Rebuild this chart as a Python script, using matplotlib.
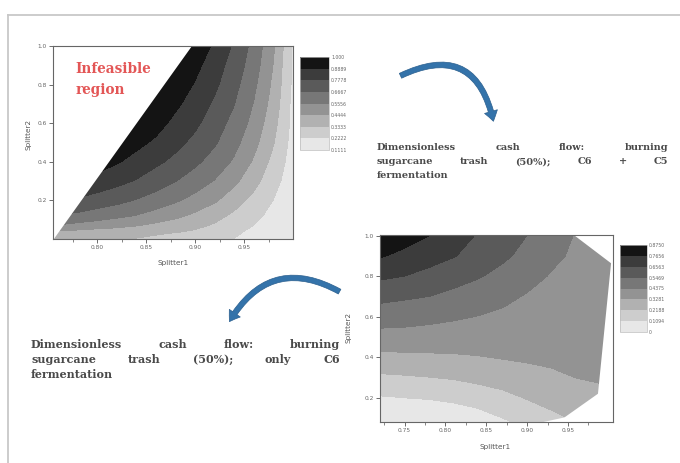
import matplotlib.pyplot as plt
import numpy as np
from matplotlib.lines import Line2D
from matplotlib.patches import FancyArrowPatch
from matplotlib.ticker import FormatStrFormatter

W, H = 680, 463

# upper map: C6 + C5 fermentation (dimensionless cash flow over splitter fractions)
top_s1 = [0.74, 0.76, 0.78, 0.80, 0.82, 0.84, 0.86, 0.88, 0.90, 0.92, 0.94, 0.96, 0.98, 1.00]
top_s2 = [0.0, 0.03, 0.07, 0.12, 0.2, 0.3, 0.4, 0.5, 0.6, 0.7, 0.8, 0.9, 1.0]
top_cash = [
    [0.33, 0.33, 0.33, 0.33, 0.33, 0.33, 0.32, 0.31, 0.29, 0.26, 0.22, 0.17, 0.13, 0.12],
    [0.42, 0.40, 0.39, 0.37, 0.36, 0.35, 0.34, 0.33, 0.31, 0.28, 0.24, 0.19, 0.15, 0.12],
    [0.57, 0.55, 0.52, 0.50, 0.48, 0.45, 0.42, 0.39, 0.36, 0.32, 0.27, 0.22, 0.17, 0.13],
    [0.69, 0.66, 0.64, 0.61, 0.58, 0.55, 0.51, 0.47, 0.42, 0.37, 0.31, 0.25, 0.19, 0.14],
    [0.82, 0.80, 0.76, 0.73, 0.70, 0.66, 0.62, 0.57, 0.52, 0.46, 0.38, 0.30, 0.22, 0.15],
    [0.95, 0.92, 0.89, 0.85, 0.81, 0.77, 0.72, 0.67, 0.61, 0.55, 0.47, 0.37, 0.26, 0.16],
    [1.00, 1.00, 0.98, 0.94, 0.90, 0.85, 0.80, 0.75, 0.69, 0.62, 0.54, 0.43, 0.30, 0.17],
    [1.00, 1.00, 1.00, 1.00, 0.97, 0.92, 0.87, 0.81, 0.75, 0.68, 0.59, 0.48, 0.34, 0.18],
    [1.00, 1.00, 1.00, 1.00, 1.00, 0.98, 0.93, 0.86, 0.80, 0.72, 0.63, 0.52, 0.37, 0.19],
    [1.00, 1.00, 1.00, 1.00, 1.00, 1.00, 0.98, 0.91, 0.84, 0.76, 0.67, 0.55, 0.40, 0.19],
    [1.00, 1.00, 1.00, 1.00, 1.00, 1.00, 1.00, 0.96, 0.88, 0.80, 0.70, 0.58, 0.42, 0.20],
    [1.00, 1.00, 1.00, 1.00, 1.00, 1.00, 1.00, 1.00, 0.92, 0.83, 0.73, 0.61, 0.44, 0.20],
    [1.00, 1.00, 1.00, 1.00, 1.00, 1.00, 1.00, 1.00, 0.96, 0.87, 0.76, 0.63, 0.46, 0.21],
]
top_levels = [0.1111, 0.2222, 0.3333, 0.4444, 0.5556, 0.6667, 0.7778, 0.8889, 1.0]
top_tick_labels = ["0.1111", "0.2222", "0.3333", "0.4444", "0.5556", "0.6667",
                   "0.7778", "0.8889", "1.000"]
# straight edge of the infeasible region
top_limit_s1 = [0.755, 0.896]
top_limit_s2 = [0.0, 1.0]

# lower map: only C6 fermentation
bottom_s1 = [0.72, 0.75, 0.78, 0.81, 0.84, 0.87, 0.90, 0.93, 0.96, 0.99, 1.02]
bottom_s2 = [0.06, 0.1, 0.2, 0.3, 0.4, 0.5, 0.6, 0.7, 0.8, 0.9, 1.0]
bottom_cash = [
    [0.0, 0.0, 0.0, 0.0, 0.03, 0.08, 0.12, 0.17, 0.20, 0.22, 0.23],
    [0.0, 0.0, 0.0, 0.02, 0.06, 0.11, 0.16, 0.20, 0.23, 0.25, 0.26],
    [0.10, 0.11, 0.12, 0.14, 0.165, 0.19, 0.225, 0.25, 0.275, 0.30, 0.31],
    [0.20, 0.208, 0.217, 0.228, 0.245, 0.265, 0.285, 0.305, 0.33, 0.34, 0.345],
    [0.30, 0.305, 0.31, 0.315, 0.323, 0.335, 0.345, 0.355, 0.36, 0.36, 0.36],
    [0.40, 0.40, 0.395, 0.39, 0.39, 0.385, 0.38, 0.375, 0.37, 0.365, 0.36],
    [0.487, 0.478, 0.465, 0.45, 0.435, 0.42, 0.41, 0.40, 0.39, 0.38, 0.37],
    [0.578, 0.562, 0.547, 0.519, 0.49, 0.46, 0.43, 0.41, 0.40, 0.39, 0.38],
    [0.676, 0.656, 0.623, 0.59, 0.556, 0.514, 0.47, 0.43, 0.41, 0.39, 0.38],
    [0.775, 0.739, 0.701, 0.662, 0.616, 0.567, 0.515, 0.459, 0.42, 0.40, 0.39],
    [0.85, 0.809, 0.767, 0.707, 0.647, 0.597, 0.546, 0.487, 0.43, 0.41, 0.39],
]
bottom_levels = [0, 0.1094, 0.2188, 0.3281, 0.4375, 0.5469, 0.6563, 0.7656, 0.875]
bottom_tick_labels = ["0", "0.1094", "0.2188", "0.3281", "0.4375", "0.5469",
                      "0.6563", "0.7656", "0.8750"]
# right-hand edge of the feasible region
bottom_edge_s1 = [0.955, 1.002, 0.986, 0.945, 0.905]
bottom_edge_s2 = [1.01, 0.866, 0.222, 0.105, 0.07]

greys = ["#e7e7e7", "#cdcdcd", "#b1b1b1", "#939393", "#777777",
         "#5a5a5a", "#3c3c3c", "#141414"]

caption_top = [["Dimensionless", "cash", "flow:", "burning"],
               ["sugarcane", "trash", "(50%);", "C6", "+", "C5"],
               ["fermentation"]]
caption_bottom = [["Dimensionless", "cash", "flow:", "burning"],
                  ["sugarcane", "trash", "(50%);", "only", "C6"],
                  ["fermentation"]]


def box(x0, y0, x1, y1):
    return [x0 / W, 1 - y1 / H, (x1 - x0) / W, (y1 - y0) / H]


def fp(x, y):
    return (x / W, 1 - y / H)


def panel(fig, rect, s1, s2, z, levels, xlim, ylim, xticks, xlab, ylab):
    ax = fig.add_axes(rect)
    cs = ax.contourf(s1, s2, np.array(z), levels=levels, colors=greys)
    ax.set_xlim(*xlim)
    ax.set_ylim(*ylim)
    ax.set_xticks(xticks)
    ax.set_yticks([0.2, 0.4, 0.6, 0.8, 1.0])
    ax.xaxis.set_major_formatter(FormatStrFormatter("%.2f"))
    ax.yaxis.set_major_formatter(FormatStrFormatter("%.1f"))
    ax.tick_params(direction="out", length=3, width=0.6, labelsize=4.2, pad=1.5,
                   colors="#555555", labelcolor="#666666")
    ax.tick_params(which="minor", direction="out", length=2, width=0.5, colors="#555555")
    for sp in ax.spines.values():
        sp.set_color("#666666")
        sp.set_linewidth(0.8)
    ax.set_xlabel("Splitter1", fontsize=5.2, color="#555555")
    ax.set_ylabel("Splitter2", fontsize=5.2, color="#555555")
    ax.xaxis.set_label_coords(*xlab)
    ax.yaxis.set_label_coords(*ylab)
    ax.xaxis.label.set_va("center")
    ax.yaxis.label.set_va("center")
    return ax, cs


def colorbar(fig, cs, rect, labels):
    cax = fig.add_axes(rect)
    cb = fig.colorbar(cs, cax=cax)
    cb.set_ticks(cs.levels)
    cb.set_ticklabels(labels)
    cax.tick_params(length=0, labelsize=3.3, pad=1.5, labelcolor="#666666")
    cb.outline.set_edgecolor("#bbbbbb")
    cb.outline.set_linewidth(0.5)


def caption(fig, lines, x0, x1, y0, step, size):
    r = fig.canvas.get_renderer()
    for i, words in enumerate(lines):
        y = y0 + i * step
        texts = [fig.text(0, 1 - y / H, w, fontsize=size, family="DejaVu Serif",
                          weight="bold", color="#4a4a4a", va="center") for w in words]
        widths = [t.get_window_extent(r).width for t in texts]
        gap = (x1 - x0 - sum(widths)) / (len(words) - 1) if len(words) > 1 else 0
        x = x0
        for t, w in zip(texts, widths):
            t.set_x(x / W)
            x += w + gap


def curved_arrow(fig, a, b, rad):
    fig.add_artist(FancyArrowPatch(
        fp(*a), fp(*b), transform=fig.transFigure, connectionstyle=f"arc3,rad={rad}",
        arrowstyle="simple,head_length=0.45,head_width=0.6,tail_width=0.24",
        mutation_scale=16, facecolor="#3473aa", edgecolor="#2b5f8e", linewidth=0.5))


fig = plt.figure(figsize=(W / 100, H / 100), dpi=100)

ax1, cs1 = panel(fig, box(53, 46, 293, 239), top_s1, top_s2, top_cash, top_levels,
                 (0.755, 1.0), (0.0, 1.0), [0.80, 0.85, 0.90, 0.95],
                 (0.5, -0.124), (-0.104, 0.54))
ax1.set_xticks([0.775, 0.825, 0.875, 0.925, 0.975], minor=True)
ax1.fill_betweenx(top_limit_s2, 0.74, top_limit_s1, color="white", lw=0)
for label, s2 in (("Infeasible", 0.88), ("region", 0.77)):
    ax1.text(0.778, s2, label, fontsize=9.8, family="DejaVu Serif", weight="bold",
             color="#e35656", va="center")
colorbar(fig, cs1, box(300, 57, 329, 150), top_tick_labels)

ax2, cs2 = panel(fig, box(380, 235, 613, 422), bottom_s1, bottom_s2, bottom_cash,
                 bottom_levels, (0.72, 1.005), (0.08, 1.003),
                 [0.75, 0.80, 0.85, 0.90, 0.95], (0.494, -0.136), (-0.137, 0.507))
ax2.set_xticks([0.725, 0.775, 0.825, 0.875, 0.925, 0.975], minor=True)
ax2.fill_betweenx(bottom_edge_s2, bottom_edge_s1, 1.02, color="white", lw=0)
colorbar(fig, cs2, box(620, 245, 647, 332), bottom_tick_labels)

caption(fig, caption_top, 377, 668, 147, 14.5, 7.0)
caption(fig, caption_bottom, 31, 340, 345, 14.5, 8.0)

curved_arrow(fig, (398, 77), (494, 124), -0.65)
curved_arrow(fig, (342, 293), (228, 324), 0.5)

# light frame of the original slide (top and left edges)
fig.add_artist(Line2D([8 / W, 1], [1 - 15 / H] * 2, transform=fig.transFigure,
                      color="#c8c8c8", lw=1.3))
fig.add_artist(Line2D([8 / W] * 2, [0, 1 - 15 / H], transform=fig.transFigure,
                      color="#c8c8c8", lw=1.3))

fig.savefig("out.png", dpi=100)
